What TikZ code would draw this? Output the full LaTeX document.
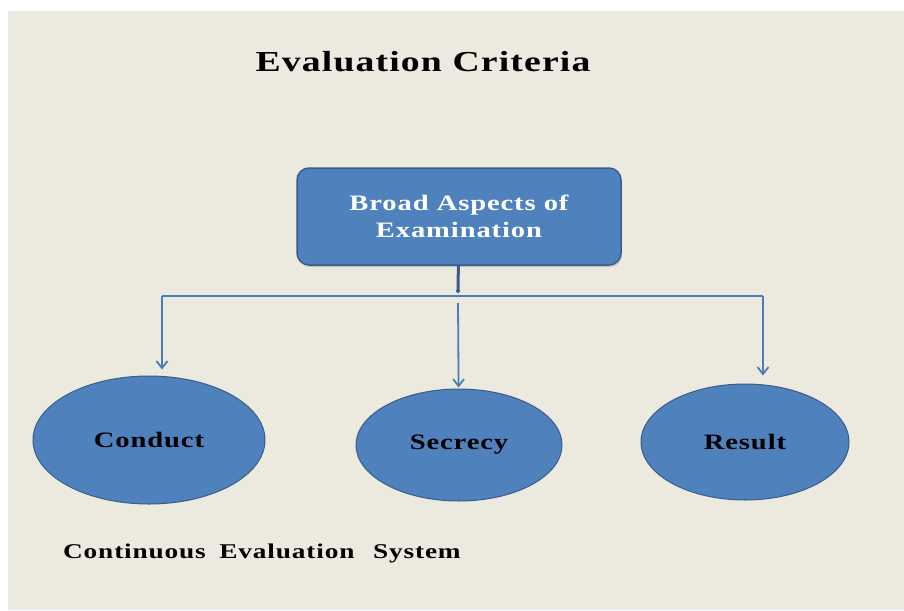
\documentclass[tikz,border=0pt]{standalone}
\usepackage{fontspec}
\setmainfont{Liberation Serif}
\newfontfamily\widefont[FakeStretch=1.3, LetterSpace=4]{Liberation Serif}
\usetikzlibrary{arrows.meta,shadows,shapes.geometric}
\definecolor{paper}{HTML}{ECE9DF}
\definecolor{boxblue}{HTML}{4F81BD}
\definecolor{edgeblue}{HTML}{385D8A}
\definecolor{lineblue}{HTML}{4A7EBB}
\begin{document}
\begin{tikzpicture}[x=1pt,y=-1pt]
        \tikzstyle{head} = [rectangle, rounded corners=12pt, minimum width=324pt, minimum height=97pt, text centered, align=center, fill=boxblue, draw=edgeblue, line width=1.5pt, text=white, font=\widefont\bfseries\fontsize{22}{27}\selectfont, drop shadow={opacity=0.35, shadow xshift=1pt, shadow yshift=-2pt}]
        \tikzstyle{part} = [ellipse, fill=boxblue, draw=edgeblue, line width=1pt, inner sep=0pt, font=\widefont\bfseries\fontsize{22}{26}\selectfont]
        \tikzstyle{link} = [lineblue, line width=1.8pt]
        \tikzstyle{arrow} = [link, -{Straight Barb[length=7pt,width=11pt]}]
        \useasboundingbox (0,0) rectangle (904,610);
        \fill[white] (0,0) rectangle (904,610);
        \fill[paper] (8,11) rectangle (904,610);
        \node (title) at (423, 62) {\widefont\bfseries\fontsize{29}{34}\selectfont Evaluation Criteria};
        \node (broad) [head] at (459, 216.5) {Broad Aspects of\\Examination};
        \node (conduct) [part, minimum width=232pt, minimum height=128pt] at (149, 440) {Conduct};
        \node (secrecy) [part, minimum width=206pt, minimum height=112pt] at (459, 445) {Secrecy};
        \node (result) [part, minimum width=208pt, minimum height=116pt] at (745, 442) {Result};
        \node (ces) [anchor=west, inner sep=0pt, font=\widefont\bfseries\fontsize{21}{25}\selectfont] at (63, 553) {Continuous\hspace{6pt} Evaluation\hspace{11pt} System};
        \coordinate (joint) at (458, 293);
        \coordinate (lft) at (162, 296);
        \coordinate (rgt) at (763, 296);
        \coordinate (mid) at (458, 303);
        \draw[edgeblue, line width=3pt, -{Circle[length=4pt]}] (broad) -- (joint);
        \draw[link] (lft) -- (rgt);
        \draw[arrow, shorten >=6pt] (lft) -- (lft |- conduct.north);
        \draw[arrow, shorten >=1pt] (mid) -- (secrecy);
        \draw[arrow, shorten >=8pt] (rgt) -- (rgt |- result.north);
    \end{tikzpicture}
\end{document}
